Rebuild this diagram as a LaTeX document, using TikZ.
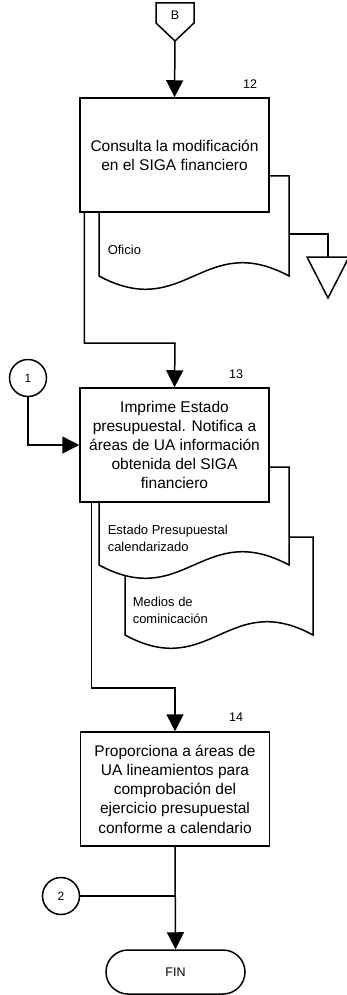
\documentclass[tikz,border=0pt]{standalone}
\usepackage{fontspec}
\setmainfont{Liberation Sans}
\usetikzlibrary{arrows.meta,calc}
\begin{document}
\begin{tikzpicture}[x=1pt,y=-1pt, line width=1.5pt,
  proc/.style={draw, fill=white, minimum width=189pt, minimum height=114pt, inner sep=0pt, align=center, font=\fontsize{15.5}{19.2}\selectfont},
  conn/.style={draw, fill=white, circle, minimum size=37pt, inner sep=0pt, font=\fontsize{12}{14}\selectfont},
  num/.style={inner sep=0pt, font=\fontsize{12.5}{15}\selectfont},
  small/.style={align=left, anchor=west, inner sep=0pt, font=\fontsize{13}{17}\selectfont},
  arr/.style={-{Triangle[length=17pt,width=17pt]}},
  docshape/.style={draw, fill=white, line join=miter}
]
\useasboundingbox (0,0) rectangle (346,995);

% off-page connector B
\draw[fill=white] (156,3) -- (194,3) -- (194,23) -- (175,41) -- (156,23) -- cycle;
\node[inner sep=0pt, font=\fontsize{12.5}{14}\selectfont] (Bt) at (175,15) {B};
\coordinate (Bp) at (175,41);

% document Oficio
\path[docshape] (99,176) -- (289,176) -- (289,276) .. controls (203.5,230) and (184.5,322) .. (99,276) -- cycle;
\node[small] (of) at (107,250) {Oficio};
\coordinate (d0) at (289,234);
\coordinate (tri) at (328,257);
\draw (d0) -| (tri);
\draw[fill=white] (307,257) -- (349,257) -- (328,298) -- cycle;

% box 12
\node[proc] (b12) at (174.5,155) {Consulta la modificación\\en el SIGA financiero};
\node[num] (n12) at (250,84) {12};
\draw[arr] (Bp) -- (b12.north);

% documents of 13
\path[docshape] (125,537) -- (313,537) -- (313,635) .. controls (228.4,589) and (209.6,681) .. (125,635) -- cycle;
\node[small] (med) at (132,610) {Medios de\\cominicación};
\path[docshape] (99,467) -- (289,467) -- (289,565) .. controls (203.5,519) and (184.5,611) .. (99,565) -- cycle;
\node[small] (est) at (107,538.5) {Estado Presupuestal\\calendarizado};

% box 13
\node[proc] (b13) at (174.5,445) {Imprime Estado\\presupuestal. Notifica a\\áreas de UA información\\obtenida del SIGA\\financiero};
\node[num] (n13) at (236,374) {13};
\coordinate (j1) at (175,343);
\draw[arr] ([xshift=5pt]b12.south west) |- (j1) -- (b13.north);
\node[conn] (c1) at (28,378) {1};
\draw[arr] (c1.south) |- (b13.west);

% box 14
\node[proc] (b14) at (175,789) {Proporciona a áreas de\\UA lineamientos para\\comprobación del\\ejercicio presupuestal\\conforme a calendario};
\node[num] (n14) at (236,717) {14};
\coordinate (j2) at (175,688);
\draw[arr] ([xshift=12pt]b13.south west) |- (j2) -- (b14.north);

% end
\node[draw, fill=white, rounded corners=22pt, minimum width=139pt, minimum height=44pt, inner sep=0pt, font=\fontsize{12.5}{14}\selectfont] (fin) at (175.5,972) {FIN};
\draw[arr] (b14.south) -- (fin.north);
\node[conn] (c2) at (61,896) {2};
\draw (c2.east) -- (b14.south |- c2.east);
\end{tikzpicture}
\end{document}
